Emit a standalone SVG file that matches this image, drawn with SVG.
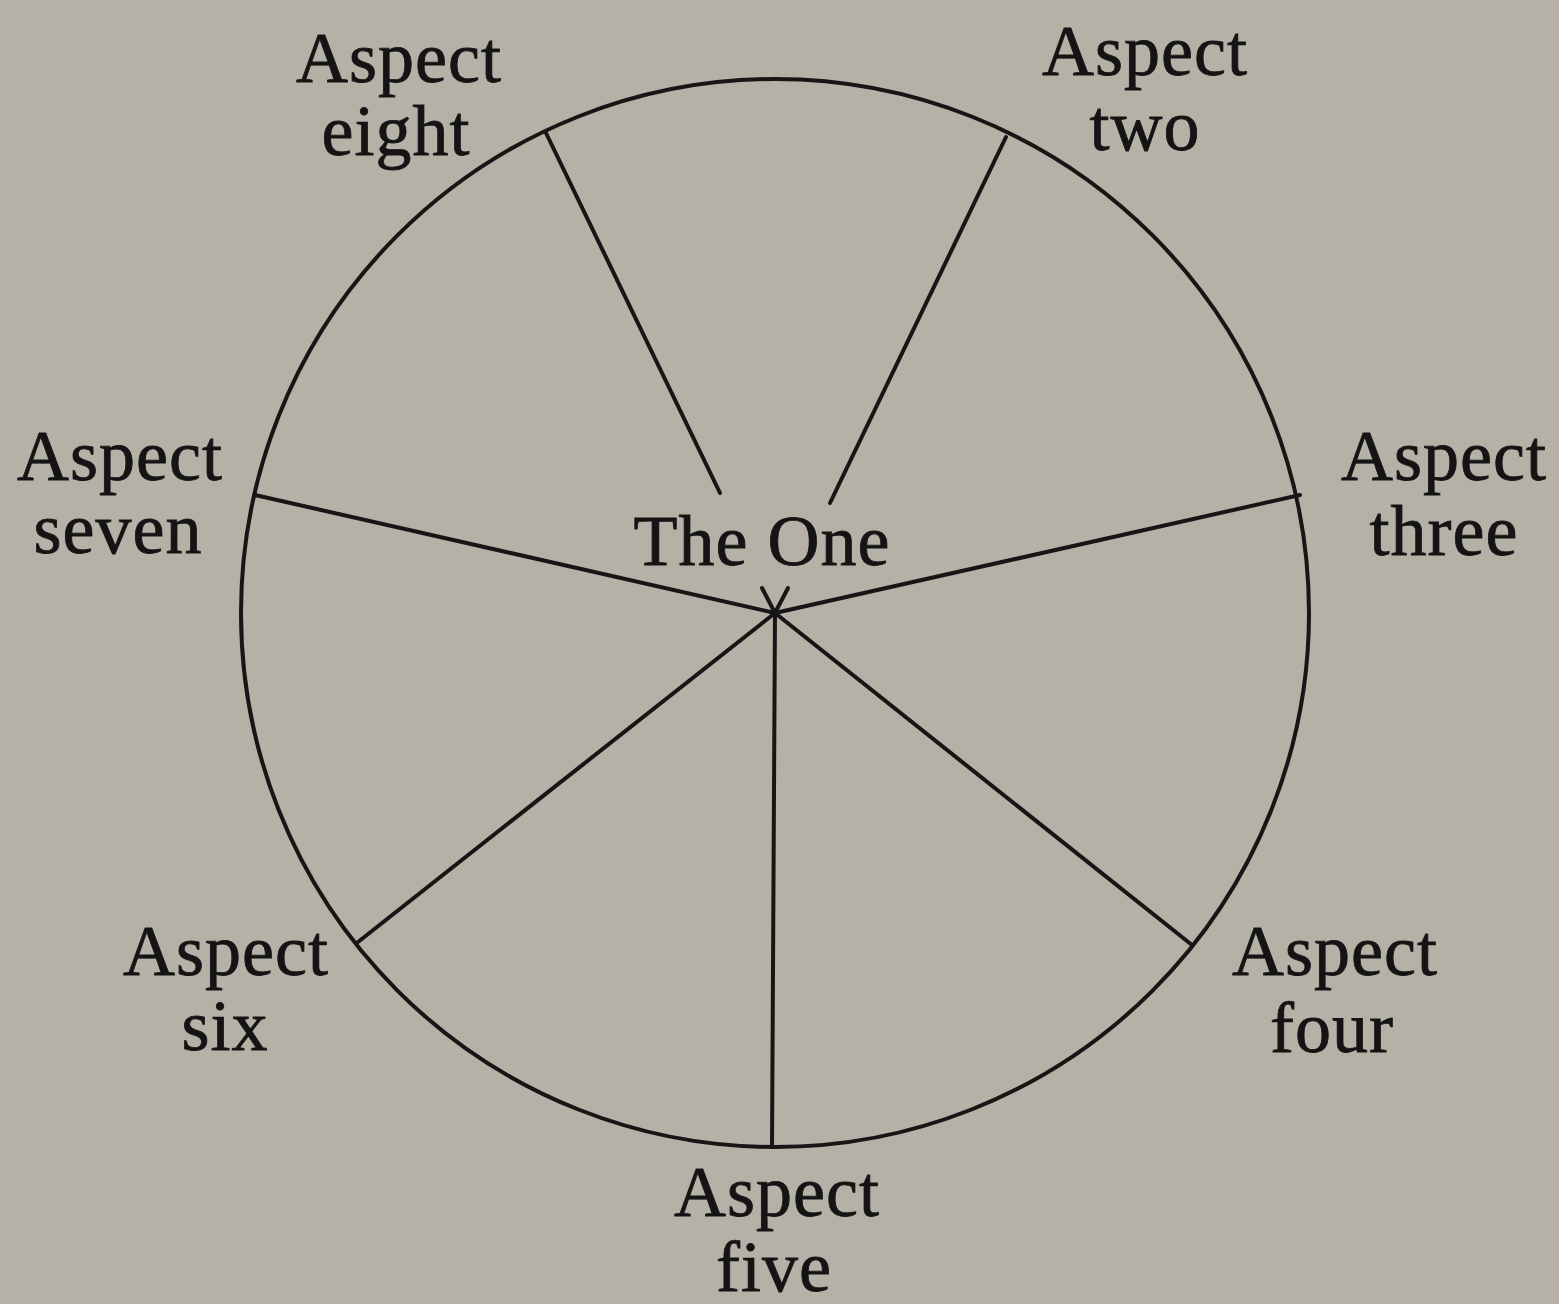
<svg xmlns="http://www.w3.org/2000/svg" width="1559" height="1304" viewBox="0 0 1559 1304">
<style>
.bg{fill:#b5b1a6}
.ln{stroke:#161616;stroke-width:4;fill:none;stroke-linecap:round}
.t{font-family:"Liberation Serif","Times New Roman",serif;font-size:72px;fill:#141414;stroke:#141414;stroke-width:0.8;text-anchor:middle;letter-spacing:1px}
</style>
<rect class="bg" x="0" y="0" width="1559" height="1304"/>
<g id="connectors">
<circle class="ln" cx="775" cy="613" r="534"/>
<line class="ln" x1="546" y1="133" x2="720" y2="493"/>
<line class="ln" x1="762" y1="588" x2="775" y2="613"/>
<line class="ln" x1="1006" y1="137" x2="830" y2="503"/>
<line class="ln" x1="788" y1="588" x2="775" y2="613"/>
<line class="ln" x1="1300" y1="495" x2="775" y2="613"/>
<line class="ln" x1="255" y1="495" x2="775" y2="613"/>
<line class="ln" x1="1192" y1="945" x2="775" y2="613"/>
<line class="ln" x1="772" y1="1147" x2="775" y2="613"/>
<line class="ln" x1="358" y1="942" x2="775" y2="613"/>
</g>
<g id="center"><text class="t" x="762" y="565">The One</text></g>
<g id="aspect-two"><text class="t" x="1145" y="75">Aspect</text><text class="t" x="1145" y="150">two</text></g>
<g id="aspect-three"><text class="t" x="1444" y="480">Aspect</text><text class="t" x="1444" y="555">three</text></g>
<g id="aspect-four"><text class="t" x="1335" y="975">Aspect</text><text class="t" x="1332" y="1052">four</text></g>
<g id="aspect-five"><text class="t" x="777" y="1216">Aspect</text><text class="t" x="774" y="1291">five</text></g>
<g id="aspect-six"><text class="t" x="226" y="975">Aspect</text><text class="t" x="225" y="1050">six</text></g>
<g id="aspect-seven"><text class="t" x="120" y="480">Aspect</text><text class="t" x="118" y="553">seven</text></g>
<g id="aspect-eight"><text class="t" x="399" y="82">Aspect</text><text class="t" x="396" y="155">eight</text></g>
</svg>
